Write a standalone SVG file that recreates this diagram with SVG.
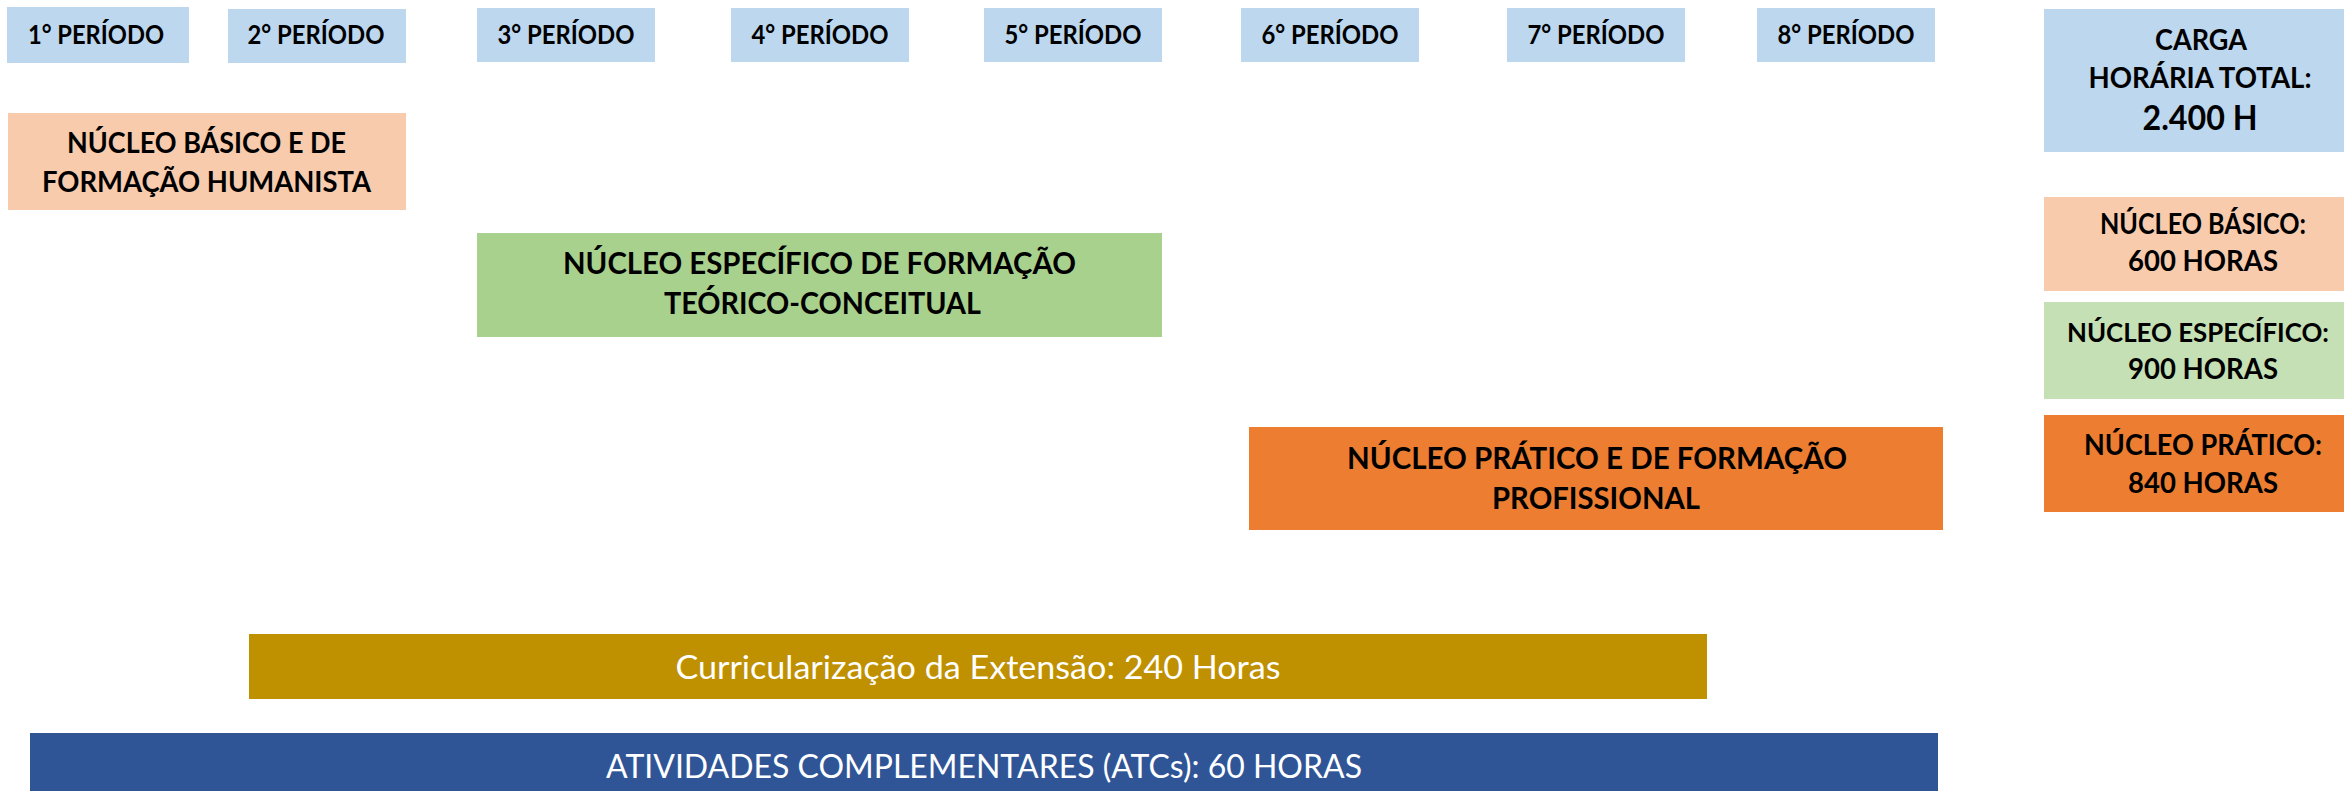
<svg xmlns="http://www.w3.org/2000/svg" width="2344" height="791" viewBox="0 0 2344 791">
<style>
.per{fill:#BDD7EE}
.t{font-family:Lato,"Liberation Sans",sans-serif;font-weight:bold;fill:#000;text-anchor:middle}
.p{font-size:26px}
.m{font-size:28.5px}
.b{font-size:31px}
.r{font-size:28px}
.w{font-family:Lato,"Liberation Sans",sans-serif;font-weight:normal;fill:#fff;text-anchor:middle;font-size:33px}
</style>
<rect width="2344" height="791" fill="#fff"/>
<g id="p1"><rect class="per" x="7" y="7" width="182" height="56"/><text class="t p" x="96" y="44" textLength="136" lengthAdjust="spacingAndGlyphs">1° PERÍODO</text></g>
<g id="p2"><rect class="per" x="228" y="9" width="178" height="54"/><text class="t p" x="316" y="44" textLength="137" lengthAdjust="spacingAndGlyphs">2° PERÍODO</text></g>
<g id="p3"><rect class="per" x="477" y="8" width="178" height="54"/><text class="t p" x="566" y="44" textLength="137" lengthAdjust="spacingAndGlyphs">3° PERÍODO</text></g>
<g id="p4"><rect class="per" x="731" y="8" width="178" height="54"/><text class="t p" x="820" y="44" textLength="137" lengthAdjust="spacingAndGlyphs">4° PERÍODO</text></g>
<g id="p5"><rect class="per" x="984" y="8" width="178" height="54"/><text class="t p" x="1073" y="44" textLength="137" lengthAdjust="spacingAndGlyphs">5° PERÍODO</text></g>
<g id="p6"><rect class="per" x="1241" y="8" width="178" height="54"/><text class="t p" x="1330" y="44" textLength="137" lengthAdjust="spacingAndGlyphs">6° PERÍODO</text></g>
<g id="p7"><rect class="per" x="1507" y="8" width="178" height="54"/><text class="t p" x="1596" y="44" textLength="137" lengthAdjust="spacingAndGlyphs">7° PERÍODO</text></g>
<g id="p8"><rect class="per" x="1757" y="8" width="178" height="54"/><text class="t p" x="1846" y="44" textLength="137" lengthAdjust="spacingAndGlyphs">8° PERÍODO</text></g>
<g id="carga"><rect class="per" x="2044" y="9" width="300" height="143"/>
<text class="t r" x="2201" y="50" textLength="92" lengthAdjust="spacingAndGlyphs">CARGA</text>
<text class="t r" x="2200" y="88" textLength="223" lengthAdjust="spacingAndGlyphs">HORÁRIA TOTAL:</text>
<text class="t" x="2200" y="130" font-size="34" textLength="115" lengthAdjust="spacingAndGlyphs">2.400 H</text></g>
<g id="nucleo-basico"><rect x="8" y="113" width="398" height="97" fill="#F8CBAD"/>
<text class="t m" x="206.5" y="153" textLength="279" lengthAdjust="spacingAndGlyphs">NÚCLEO BÁSICO E DE</text>
<text class="t m" x="206.5" y="192" textLength="329" lengthAdjust="spacingAndGlyphs">FORMAÇÃO HUMANISTA</text></g>
<g id="nucleo-especifico"><rect x="477" y="233" width="685" height="104" fill="#A9D18E"/>
<text class="t b" x="819.5" y="274" textLength="513" lengthAdjust="spacingAndGlyphs">NÚCLEO ESPECÍFICO DE FORMAÇÃO</text>
<text class="t b" x="822.5" y="314" textLength="317" lengthAdjust="spacingAndGlyphs">TEÓRICO-CONCEITUAL</text></g>
<g id="nucleo-pratico"><rect x="1249" y="427" width="694" height="103" fill="#ED7D31"/>
<text class="t b" x="1597" y="469" textLength="500" lengthAdjust="spacingAndGlyphs">NÚCLEO PRÁTICO E DE FORMAÇÃO</text>
<text class="t b" x="1596" y="509" textLength="208" lengthAdjust="spacingAndGlyphs">PROFISSIONAL</text></g>
<g id="total-basico"><rect x="2044" y="197" width="300" height="94" fill="#F8CBAD"/>
<text class="t r" x="2203" y="234" textLength="206" lengthAdjust="spacingAndGlyphs">NÚCLEO BÁSICO:</text>
<text class="t r" x="2203" y="271" textLength="150" lengthAdjust="spacingAndGlyphs">600 HORAS</text></g>
<g id="total-especifico"><rect x="2044" y="302" width="300" height="97" fill="#C5E0B4"/>
<text class="t" x="2198" y="342" font-size="27" textLength="262" lengthAdjust="spacingAndGlyphs">NÚCLEO ESPECÍFICO:</text>
<text class="t r" x="2203" y="379" textLength="150" lengthAdjust="spacingAndGlyphs">900 HORAS</text></g>
<g id="total-pratico"><rect x="2044" y="415" width="300" height="97" fill="#ED7D31"/>
<text class="t r" x="2203" y="455" textLength="238" lengthAdjust="spacingAndGlyphs">NÚCLEO PRÁTICO:</text>
<text class="t r" x="2203" y="493" textLength="150" lengthAdjust="spacingAndGlyphs">840 HORAS</text></g>
<g id="extensao"><rect x="249" y="634" width="1458" height="65" fill="#BF9000"/>
<text class="w" x="978" y="679" textLength="605" lengthAdjust="spacingAndGlyphs">Curricularização da Extensão: 240 Horas</text></g>
<g id="atcs"><rect x="30" y="733" width="1908" height="58" fill="#2F5597"/>
<text class="w" x="984" y="778" textLength="756" lengthAdjust="spacingAndGlyphs">ATIVIDADES COMPLEMENTARES (ATCs): 60 HORAS</text></g>
<g id="connectors"/>
</svg>
